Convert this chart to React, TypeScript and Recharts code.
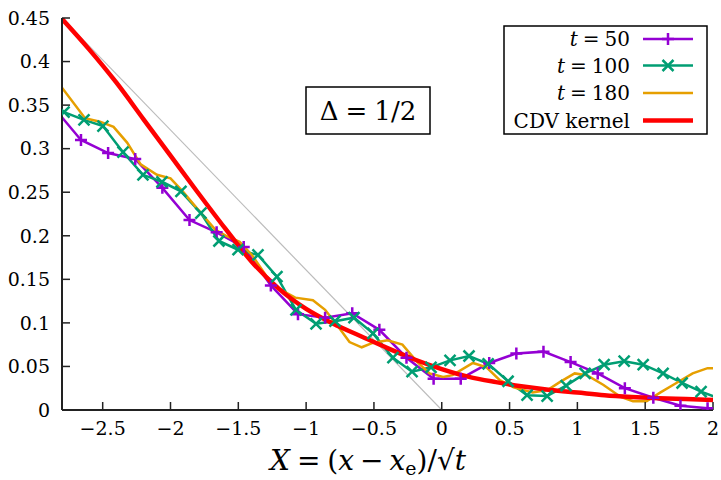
import React from 'react';
import { LineChart, Line, XAxis, YAxis, Legend, Customized } from 'recharts';

const FONT = "DejaVu Serif, Liberation Serif, serif";

// axes
const xDomain = [-2.8, 2];
const yDomain = [0, 0.45];
const xTicks = [-2.5, -2, -1.5, -1, -0.5, 0, 0.5, 1, 1.5, 2];
const yTicks = [0, 0.05, 0.1, 0.15, 0.2, 0.25, 0.3, 0.35, 0.4, 0.45];

// t = 50 (purple, +)
const t50X = [-2.86, -2.66, -2.46, -2.26, -2.06, -1.86, -1.66, -1.46, -1.26, -1.06, -0.86, -0.66, -0.46, -0.26, -0.06, 0.14, 0.35, 0.55, 0.75, 0.95, 1.15, 1.35, 1.56, 1.76, 1.96, 2.16];
const t50Y = [0.347, 0.31, 0.295, 0.288, 0.255, 0.218, 0.204, 0.187, 0.143, 0.11, 0.106, 0.111, 0.092, 0.06, 0.036, 0.036, 0.054, 0.065, 0.067, 0.055, 0.042, 0.025, 0.014, 0.005, 0.002, 0.0];

// t = 100 (green, x)
const t100X = [-2.785, -2.638, -2.498, -2.35, -2.203, -2.063, -1.923, -1.776, -1.643, -1.502, -1.355, -1.215, -1.075, -0.927, -0.787, -0.647, -0.507, -0.36, -0.219, -0.079, 0.061, 0.201, 0.342, 0.489, 0.629, 0.777, 0.917, 1.057, 1.197, 1.345, 1.485, 1.632, 1.772, 1.912, 2.052];
const t100Y = [0.342, 0.333, 0.326, 0.296, 0.27, 0.262, 0.251, 0.226, 0.194, 0.184, 0.178, 0.153, 0.115, 0.099, 0.102, 0.106, 0.088, 0.06, 0.044, 0.049, 0.057, 0.062, 0.053, 0.033, 0.017, 0.016, 0.028, 0.042, 0.052, 0.056, 0.052, 0.042, 0.031, 0.021, 0.013];

// t = 180 (orange, line only)
const t180X = [-2.8, -2.63, -2.52, -2.42, -2.32, -2.22, -2.1, -2.0, -1.91, -1.78, -1.67, -1.59, -1.49, -1.4, -1.29, -1.21, -1.08, -0.95, -0.86, -0.76, -0.68, -0.59, -0.51, -0.4, -0.29, -0.18, -0.09, 0.01, 0.08, 0.23, 0.33, 0.43, 0.53, 0.67, 0.78, 0.87, 0.98, 1.07, 1.19, 1.32, 1.41, 1.51, 1.61, 1.73, 1.85, 1.96, 2.0];
const t180Y = [0.37, 0.335, 0.331, 0.325, 0.307, 0.282, 0.27, 0.266, 0.251, 0.227, 0.207, 0.2, 0.193, 0.178, 0.153, 0.14, 0.129, 0.126, 0.115, 0.095, 0.078, 0.072, 0.077, 0.08, 0.075, 0.055, 0.042, 0.038, 0.04, 0.054, 0.049, 0.034, 0.026, 0.02, 0.023, 0.032, 0.042, 0.04, 0.029, 0.015, 0.01, 0.01, 0.02, 0.031, 0.042, 0.048, 0.048];

// CDV kernel (red)
const cdvX = [-2.8, -2.6, -2.4, -2.2, -2.0, -1.8, -1.6, -1.4, -1.2, -1.0, -0.8, -0.6, -0.4, -0.2, 0, 0.2, 0.4, 0.6, 0.8, 1.0, 1.2, 1.4, 1.6, 1.8, 2.0];
const cdvY = [0.449, 0.414, 0.376, 0.334, 0.292, 0.25, 0.209, 0.17, 0.139, 0.116, 0.099, 0.085, 0.071, 0.058, 0.047, 0.038, 0.032, 0.027, 0.023, 0.02, 0.017, 0.015, 0.0135, 0.0125, 0.0115];

// gray guide line
const guideX = [-2.8, 0];
const guideY = [0.45, 0];

const C50 = '#9400d3';
const C100 = '#009e73';
const C180 = '#e69f00';
const CCDV = '#ff0000';
const CGUIDE = '#bbbbbb';
const AXIS = '#222';

const zip = (xs: number[], ys: number[]) => xs.map((x, i) => ({ x, y: ys[i] }));
const d50 = zip(t50X, t50Y);
const d100 = zip(t100X, t100Y);
const d180 = zip(t180X, t180Y);
const dCdv = zip(cdvX, cdvY);
const dGuide = zip(guideX, guideY);

const inDomain = (p: any) => p && p.x >= xDomain[0] - 1e-9 && p.x <= xDomain[1] + 1e-9;

const PlusDot = (props: any) => {
  const { cx, cy, payload, index } = props;
  if (cx == null || cy == null || !inDomain(payload)) return <g key={`p${index}`} />;
  const s = 6;
  return (
    <path key={`p${index}`} d={`M${cx - s},${cy}H${cx + s}M${cx},${cy - s}V${cy + s}`} stroke={C50} strokeWidth={2.5} fill="none" />
  );
};

const CrossDot = (props: any) => {
  const { cx, cy, payload, index } = props;
  if (cx == null || cy == null || !inDomain(payload)) return <g key={`c${index}`} />;
  const s = 5.5;
  return (
    <path key={`c${index}`} d={`M${cx - s},${cy - s}L${cx + s},${cy + s}M${cx - s},${cy + s}L${cx + s},${cy - s}`} stroke={C100} strokeWidth={2.5} fill="none" />
  );
};

const fmtX = (v: number) => (v < 0 ? '\u2212' + String(Math.abs(v)) : String(v));
const fmtY = (v: number) => String(v);

const legendRows = [
  { tval: '50', color: C50, marker: 'plus', width: 2.5 },
  { tval: '100', color: C100, marker: 'cross', width: 2.5 },
  { tval: '180', color: C180, marker: 'none', width: 2.5 },
  { tval: '', color: CCDV, marker: 'none', width: 4.5, text: 'CDV kernel' },
];

const LegendBox = () => {
  const rowsY = [14, 40.5, 68, 95.5];
  return (
    <svg width={205} height={110} style={{ display: 'block' }} fontFamily={FONT}>
      <rect x={1} y={1} width={203} height={108} fill="#fff" stroke="#000" strokeWidth={1.5} />
      {legendRows.map((r, i) => {
        const cy = rowsY[i];
        return (
          <g key={i}>
            <text x={127} y={cy + 7} textAnchor="end" fontSize={20} fill="#000" fontFamily={FONT}>
              {r.text ? (
                r.text
              ) : (
                <>
                  <tspan fontStyle="italic">t</tspan>
                  <tspan dx={5}>=</tspan>
                  <tspan dx={5}>{r.tval}</tspan>
                </>
              )}
            </text>
            <line x1={140} x2={190} y1={cy} y2={cy} stroke={r.color} strokeWidth={r.width} />
            {r.marker === 'plus' && (
              <path d={`M159,${cy}H171M165,${cy - 6}V${cy + 6}`} stroke={r.color} strokeWidth={2.5} />
            )}
            {r.marker === 'cross' && (
              <path d={`M159.5,${cy - 5.5}L170.5,${cy + 5.5}M159.5,${cy + 5.5}L170.5,${cy - 5.5}`} stroke={r.color} strokeWidth={2.5} />
            )}
          </g>
        );
      })}
    </svg>
  );
};

const Annotations = () => (
  <g fontFamily={FONT}>
    <rect x={306} y={87} width={124} height={47} fill="#fff" stroke="#000" strokeWidth={1.5} />
    <text x={368} y={120} textAnchor="middle" fontSize={26} fill="#000" fontFamily={FONT}>
      <tspan>Δ</tspan>
      <tspan dx={7}>=</tspan>
      <tspan dx={7}>1/2</tspan>
    </text>
    <text x={368} y={470} textAnchor="middle" fontSize={28} fill="#000" fontFamily={FONT}>
      <tspan fontStyle="italic">X</tspan>
      <tspan dx={7}>=</tspan>
      <tspan dx={7}>(</tspan>
      <tspan fontStyle="italic">x</tspan>
      <tspan dx={6}>{'\u2212'}</tspan>
      <tspan dx={6} fontStyle="italic">x</tspan>
      <tspan fontSize={19} dy={5}>e</tspan>
      <tspan dy={-5}>)/√</tspan>
      <tspan fontStyle="italic">t</tspan>
    </text>
  </g>
);

const tickStyle = { fontFamily: FONT, fontSize: 19, fill: '#000' };

export default function App() {
  return (
    <div style={{ position: 'absolute', left: 0, top: 0, width: 721, height: 480, background: '#fff', fontFamily: FONT }}>
      <LineChart width={721} height={480} margin={{ top: 18, right: 8, bottom: 0, left: 0 }} style={{ fontFamily: FONT }}>
        <XAxis
          xAxisId="b"
          dataKey="x"
          type="number"
          domain={xDomain}
          ticks={xTicks}
          allowDataOverflow
          interval={0}
          height={70}
          tickSize={-8}
          tickMargin={20}
          tickFormatter={fmtX}
          tick={tickStyle}
          axisLine={{ stroke: AXIS, strokeWidth: 2 }}
          tickLine={{ stroke: AXIS, strokeWidth: 1.5 }}
        />
        <XAxis
          xAxisId="t"
          orientation="top"
          dataKey="x"
          type="number"
          domain={xDomain}
          ticks={xTicks}
          allowDataOverflow
          interval={0}
          height={0}
          tickSize={-8}
          tick={false}
          axisLine={{ stroke: AXIS, strokeWidth: 2 }}
          tickLine={{ stroke: AXIS, strokeWidth: 1.5 }}
        />
        <YAxis
          yAxisId="l"
          type="number"
          domain={yDomain}
          ticks={yTicks}
          allowDataOverflow
          interval={0}
          width={62}
          tickSize={-8}
          tickMargin={20}
          tickFormatter={fmtY}
          tick={tickStyle}
          axisLine={{ stroke: AXIS, strokeWidth: 2 }}
          tickLine={{ stroke: AXIS, strokeWidth: 1.5 }}
        />
        <YAxis
          yAxisId="r"
          orientation="right"
          type="number"
          domain={yDomain}
          ticks={yTicks}
          allowDataOverflow
          interval={0}
          width={0}
          tickSize={-8}
          tick={false}
          axisLine={{ stroke: AXIS, strokeWidth: 2 }}
          tickLine={{ stroke: AXIS, strokeWidth: 1.5 }}
        />
        <Line xAxisId="b" yAxisId="l" data={dGuide} dataKey="y" type="linear" stroke={CGUIDE} strokeWidth={1.2} dot={false} isAnimationActive={false} legendType="none" name="guide" />
        <Line xAxisId="b" yAxisId="l" data={d50} dataKey="y" type="linear" stroke={C50} strokeWidth={2.5} dot={PlusDot} activeDot={false} isAnimationActive={false} name="t = 50" />
        <Line xAxisId="b" yAxisId="l" data={d100} dataKey="y" type="linear" stroke={C100} strokeWidth={2.5} dot={CrossDot} activeDot={false} isAnimationActive={false} name="t = 100" />
        <Line xAxisId="b" yAxisId="l" data={d180} dataKey="y" type="linear" stroke={C180} strokeWidth={2.5} dot={false} isAnimationActive={false} name="t = 180" />
        <Line xAxisId="b" yAxisId="l" data={dCdv} dataKey="y" type="monotone" stroke={CCDV} strokeWidth={4.5} dot={false} isAnimationActive={false} name="CDV kernel" />
        <Customized component={Annotations} />
        <Legend
          layout="horizontal"
          verticalAlign="middle"
          align="center"
          content={() => <LegendBox />}
          wrapperStyle={{ position: 'absolute', left: 503, top: 25, width: 205, height: 110 }}
        />
      </LineChart>
    </div>
  );
}
